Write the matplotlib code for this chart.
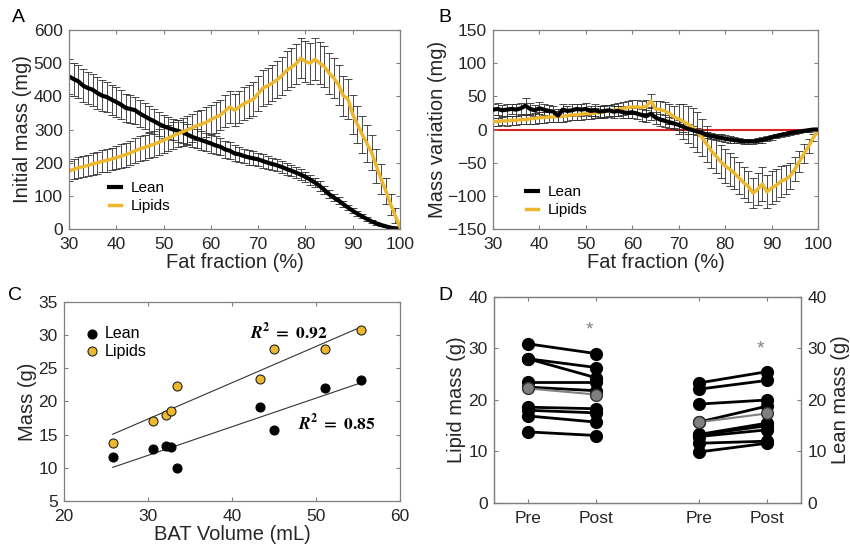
import numpy as np
import matplotlib
matplotlib.use('Agg')
import matplotlib.pyplot as plt

plt.rcParams['font.family'] = ['Liberation Sans', 'DejaVu Sans']
plt.rcParams['mathtext.fontset'] = 'stix'

# --- data -----------------------------------------------------------------
fat_fraction = list(range(30, 101))

# panel A: initial mass (mg)
lean_mass = [460, 452, 445, 432, 425, 420, 410, 402, 398, 390,
             383, 375, 365, 362, 358, 348, 340, 332, 325, 317,
             310, 305, 300, 296, 292, 285, 278, 273, 268, 263,
             258, 252, 248, 240, 236, 228, 225, 220, 216, 213,
             210, 205, 200, 196, 192, 187, 181, 176, 170, 164,
             157, 149, 140, 130, 118, 105, 95, 86, 75, 65,
             55, 46, 38, 30, 23, 17, 12, 8, 4, 2, 0]
lean_mass_err = [52, 50, 50, 49, 48, 48, 47, 47, 46, 45,
                 45, 44, 43, 42, 41, 40, 39, 38, 37, 36,
                 35, 34, 33, 33, 32, 31, 30, 30, 29, 28,
                 28, 27, 26, 25, 25, 24, 23, 22, 22, 21,
                 20, 20, 19, 19, 18, 18, 17, 17, 16, 16,
                 15, 15, 14, 14, 13, 12, 11, 10, 9, 8,
                 8, 7, 6, 5, 5, 4, 3, 3, 2, 1, 1]
lipid_mass = [175, 180, 185, 188, 192, 196, 200, 204, 207, 211,
              215, 220, 224, 230, 236, 242, 246, 251, 256, 262,
              268, 274, 281, 287, 293, 299, 305, 312, 316, 322,
              330, 337, 344, 356, 368, 358, 368, 378, 385, 392,
              408, 425, 432, 440, 450, 462, 478, 488, 498, 515,
              505, 500, 512, 500, 490, 470, 455, 435, 402, 392,
              345, 315, 285, 258, 230, 190, 150, 115, 75, 40, 5]
lipid_mass_err = [30, 30, 31, 31, 32, 32, 33, 33, 34, 34,
                  35, 35, 36, 36, 37, 37, 38, 38, 39, 39,
                  40, 40, 41, 41, 42, 42, 43, 44, 44, 45,
                  45, 46, 46, 47, 48, 48, 49, 50, 50, 51,
                  52, 53, 54, 55, 56, 57, 58, 59, 60, 61,
                  62, 62, 63, 63, 62, 62, 61, 61, 60, 60,
                  58, 57, 56, 55, 53, 50, 45, 40, 32, 22, 5]

# panel B: mass variation (mg)
lean_var = [30, 31, 29, 30, 31, 30, 32, 36, 31, 29,
            32, 30, 28, 27, 21, 30, 28, 29, 31, 30,
            31, 28, 29, 27, 28, 29, 27, 28, 26, 25,
            26, 24, 22, 20, 24, 18, 15, 13, 11, 9,
            7, 4, 1, -1, -3, -5, -8, -10, -11, -12,
            -14, -15, -16, -17, -18, -18, -18, -17, -16, -14,
            -12, -10, -8, -7, -5, -4, -3, -2, -1, 0, 0]
lean_var_err = [8, 9, 8, 9, 8, 9, 8, 12, 9, 8,
                9, 8, 9, 8, 10, 9, 8, 9, 8, 9,
                9, 8, 9, 8, 9, 8, 9, 8, 9, 8,
                8, 8, 9, 9, 10, 9, 9, 9, 8, 8,
                8, 7, 7, 6, 6, 5, 5, 5, 5, 5,
                5, 5, 4, 4, 4, 4, 4, 4, 4, 4,
                4, 3, 3, 3, 3, 2, 2, 2, 2, 1, 1]
lipid_var = [12, 12, 13, 13, 14, 14, 15, 15, 16, 17,
             18, 18, 19, 19, 20, 20, 21, 22, 22, 23,
             24, 24, 25, 26, 27, 28, 29, 30, 32, 33,
             34, 34, 33, 35, 43, 31, 30, 28, 24, 19,
             16, 12, 8, 3, -4, -12, -22, -32, -40, -48,
             -55, -60, -66, -73, -80, -86, -96, -90, -82, -94,
             -88, -84, -78, -75, -70, -60, -48, -36, -25, -12, -2]
lipid_var_err = [6, 6, 6, 7, 7, 7, 7, 7, 8, 8,
                 8, 8, 8, 8, 8, 8, 8, 8, 8, 8,
                 8, 8, 8, 9, 9, 9, 9, 10, 10, 10,
                 10, 10, 10, 10, 10, 12, 13, 14, 15, 16,
                 22, 26, 28, 30, 30, 28, 27, 26, 26, 25,
                 25, 25, 24, 24, 23, 23, 23, 24, 25, 25,
                 25, 24, 23, 22, 20, 18, 16, 14, 10, 6, 2]

# panel C: mass vs BAT volume
bat_volume = [25.8, 30.6, 32.1, 32.7, 33.5, 43.3, 45.0, 51.1, 55.4]
lean_g = [11.6, 12.9, 13.3, 13.2, 9.9, 19.2, 15.7, 22.1, 23.3]
lipid_g = [13.8, 17.0, 18.0, 18.5, 22.4, 23.4, 27.9, 27.9, 30.8]
r2_labels = ['0.92', '0.85']
r2_pos = [(42.1, 30.5), (47.9, 16.8)]

# panel D: pre / post
lipid_pre = [30.9, 28.0, 28.0, 23.5, 22.5, 18.6, 18.0, 16.9, 13.8]
lipid_post = [29.0, 26.3, 24.3, 23.5, 21.8, 18.3, 17.5, 15.7, 13.1]
lean_pre = [23.3, 22.1, 19.2, 15.7, 13.3, 13.2, 12.9, 11.6, 9.9]
lean_post = [25.5, 23.8, 20.0, 18.8, 15.5, 15.0, 14.2, 12.0, 11.6]
d_positions = [1, 2, 3.5, 4.5]
d_labels = ['Pre', 'Post', 'Pre', 'Post']
star_x = [1.9, 4.4]
star_y = [33.6, 29.9]

# --- style ----------------------------------------------------------------
GOLD = '#EDB82E'
SPINE = '#808080'
TXT = '#262626'
TICK_FS = 12.5
LABEL_FS = 14.5


def style_axes(ax, right=True):
    for s in ax.spines.values():
        s.set_color(SPINE)
        s.set_linewidth(0.9)
    ax.tick_params(direction='in', top=True, right=right, length=3,
                   width=0.8, color=SPINE, labelsize=TICK_FS,
                   labelcolor=TXT)
    ax.tick_params(axis='x', pad=5.5)
    ax.tick_params(axis='y', pad=4.5)


fig = plt.figure(figsize=(8.5, 5.54), dpi=100)
axA = fig.add_axes([0.0812, 0.5866, 0.3894, 0.3592])
axB = fig.add_axes([0.5800, 0.5866, 0.3824, 0.3592])
axC = fig.add_axes([0.0753, 0.0957, 0.3953, 0.3592])
axD = fig.add_axes([0.5812, 0.0921, 0.3612, 0.3718])

eb_kw = dict(fmt='none', ecolor='#2b2b2b', elinewidth=0.6, capsize=3,
             capthick=0.6)
leg_kw = dict(loc='lower left', frameon=False, handlelength=0.8,
              handletextpad=0.6, fontsize=11, labelspacing=0.25)

# A
axA.errorbar(fat_fraction, lean_mass, yerr=lean_mass_err, **eb_kw)
axA.errorbar(fat_fraction, lipid_mass, yerr=lipid_mass_err, **eb_kw)
axA.plot(fat_fraction, lean_mass, color='black', lw=3, label='Lean')
axA.plot(fat_fraction, lipid_mass, color=GOLD, lw=2.5, label='Lipids')
axA.set_xlim(30, 100)
axA.set_ylim(0, 600)
axA.set_xticks(range(30, 101, 10))
axA.set_yticks(range(0, 601, 100))
axA.set_xlabel('Fat fraction (%)', fontsize=LABEL_FS, color=TXT, labelpad=1)
axA.set_ylabel('Initial mass (mg)', fontsize=LABEL_FS, color=TXT, labelpad=1)
axA.legend(bbox_to_anchor=(0.08, 0.01), **leg_kw)
style_axes(axA)

# B
axB.errorbar(fat_fraction, lean_var, yerr=lean_var_err, **eb_kw)
axB.errorbar(fat_fraction, lipid_var, yerr=lipid_var_err, **eb_kw)
axB.plot([30, 100], [0, 0], color='#E02020', lw=1.5, zorder=1)
axB.plot(fat_fraction, lipid_var, color=GOLD, lw=2.5, label='Lipids', zorder=3)
axB.plot(fat_fraction, lean_var, color='black', lw=3, label='Lean', zorder=4)
axB.set_xlim(30, 100)
axB.set_ylim(-150, 150)
axB.set_xticks(range(30, 101, 10))
axB.set_yticks(range(-150, 151, 50))
axB.set_xlabel('Fat fraction (%)', fontsize=LABEL_FS, color=TXT, labelpad=1)
axB.set_ylabel('Mass variation (mg)', fontsize=LABEL_FS, color=TXT, labelpad=0)
h, l = axB.get_legend_handles_labels()
axB.legend(h[::-1], l[::-1], bbox_to_anchor=(0.06, -0.01), **leg_kw)
style_axes(axB)

# C
xs = np.array(bat_volume)
for yv in (lipid_g, lean_g):
    k, b = np.polyfit(xs, yv, 1)
    xx = np.array([xs.min(), xs.max()])
    axC.plot(xx, k * xx + b, color='#333333', lw=0.8)
axC.scatter(bat_volume, lean_g, s=42, color='black', edgecolor='black',
            linewidth=0.8, zorder=3, label='Lean')
axC.scatter(bat_volume, lipid_g, s=42, color=GOLD, edgecolor='#222222',
            linewidth=0.8, zorder=3, label='Lipids')
for lab, (px, py) in zip(r2_labels, r2_pos):
    axC.text(px, py,
             r'$\mathbfit{R}^{\mathbf{2}}\ \mathbf{=}\ \mathbf{' + lab + '}$',
             fontsize=12.5, va='center', ha='left')
axC.set_xlim(20, 60)
axC.set_ylim(5, 35)
axC.set_xticks(range(20, 61, 10))
axC.set_yticks(range(5, 36, 5))
axC.set_xlabel('BAT Volume (mL)', fontsize=LABEL_FS, color=TXT, labelpad=1)
axC.set_ylabel('Mass (g)', fontsize=LABEL_FS, color=TXT, labelpad=1)
axC.legend(loc='upper left', bbox_to_anchor=(0.04, 0.91), frameon=False,
           handlelength=1.0, handletextpad=0.3, fontsize=11.5,
           labelspacing=0.15, borderaxespad=0.0)
style_axes(axC)

# D
mk = dict(marker='o', markersize=8.5, markerfacecolor='black',
          markeredgecolor='black')
for a, b in zip(lipid_pre, lipid_post):
    axD.plot(d_positions[:2], [a, b], color='black', lw=2, **mk)
for a, b in zip(lean_pre, lean_post):
    axD.plot(d_positions[2:], [a, b], color='black', lw=2, **mk)
axD.plot(d_positions[:2], [np.mean(lipid_pre), np.mean(lipid_post)],
         color='#808080', lw=1.5, marker='o', markersize=8.5,
         markerfacecolor='#808080', markeredgecolor='#333333', zorder=4)
axD.plot(d_positions[2:], [np.mean(lean_pre), np.mean(lean_post)],
         color='#808080', lw=1.5, marker='o', markersize=8.5,
         markerfacecolor='#808080', markeredgecolor='#333333', zorder=4)
for sx, sy in zip(star_x, star_y):
    axD.text(sx, sy, '*', color='#808080', fontsize=14, ha='center',
             va='center')
axD.set_xlim(0.5, 5)
axD.set_ylim(0, 40)
axD.set_xticks(d_positions)
axD.set_xticklabels(d_labels)
axD.set_yticks(range(0, 41, 10))
axD.set_ylabel('Lipid mass (g)', fontsize=LABEL_FS, color=TXT, labelpad=2)
style_axes(axD, right=False)
axD.tick_params(axis='x', pad=6)
axD2 = axD.twinx()
axD2.set_ylim(0, 40)
axD2.set_yticks(range(0, 41, 10))
axD2.set_ylabel('Lean mass (g)', fontsize=LABEL_FS, color=TXT, labelpad=3)
for s in axD2.spines.values():
    s.set_color(SPINE)
    s.set_linewidth(0.9)
axD2.tick_params(direction='in', length=3, width=0.8, color=SPINE,
                 labelsize=TICK_FS, labelcolor=TXT, pad=4.5)

# panel letters
for letter, (lx, ly) in zip('ABCD', [(12, 17), (438, 17), (8, 295), (438, 295)]):
    fig.text(lx / 850, 1 - ly / 554, letter, fontsize=14, color='black',
             va='center', ha='left')

fig.savefig('out.png', dpi=100)
